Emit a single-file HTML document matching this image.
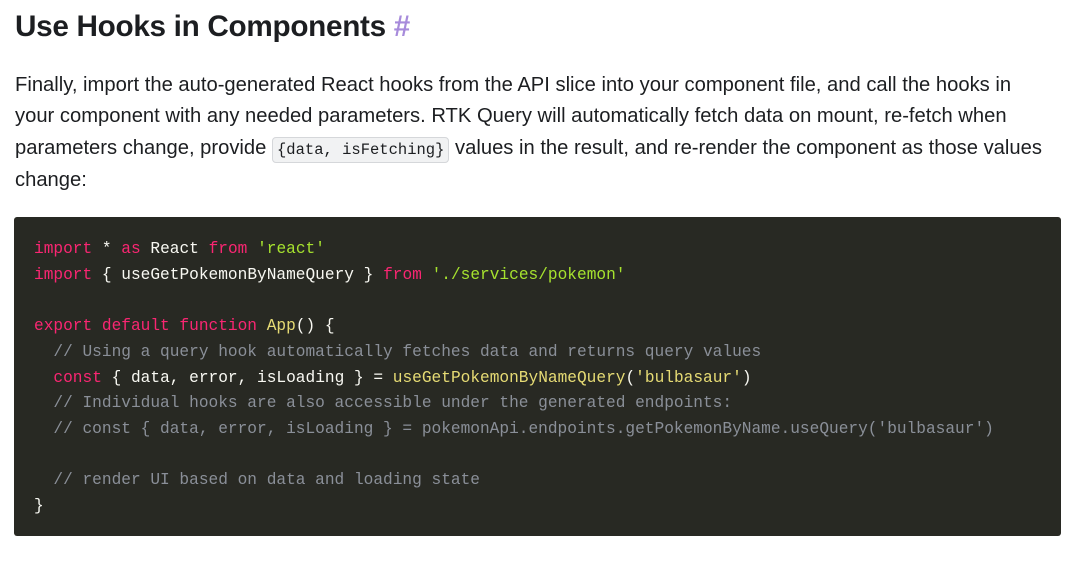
<!DOCTYPE html>
<html><head><meta charset="utf-8"><style>
body{margin:0;width:1080px;height:562px;background:#fff;position:relative;overflow:hidden;font-family:"Liberation Sans",sans-serif;color:#1c1e21}
h1{position:absolute;left:15px;top:10px;margin:0;font-size:29.7px;font-weight:bold;letter-spacing:-0.3px}
h1 span{color:#a78bdb;font-weight:bold}
.p{position:absolute;left:15px;font-size:20.2px;white-space:nowrap;line-height:32px}
.ic{font-family:"Liberation Mono",monospace;font-size:15.5px;background:#f1f2f3;border:1px solid #d5d7da;border-radius:4px;padding:3px 4px}
.code{position:absolute;left:14px;top:217px;width:1047px;height:319px;background:#282923;border-radius:3px}
.l{position:absolute;left:34px;font-family:"Liberation Mono",monospace;font-size:16.17px;color:#f8f8f2;white-space:pre;line-height:20px}
.k{color:#f92672}.s{color:#a6e22e}.f{color:#e6db74}.c{color:#8a8f98}
</style></head><body>
<h1>Use Hooks in Components <span>#</span></h1>
<div class="p" style="top:69px">Finally, import the auto-generated React hooks from the API slice into your component file, and call the hooks in</div>
<div class="p" style="top:100px">your component with any needed parameters. RTK Query will automatically fetch data on mount, re-fetch when</div>
<div class="p" style="top:132px">parameters change, provide <span class="ic">{data, isFetching}</span> values in the result, and re-render the component as those values</div>
<div class="p" style="top:164px">change:</div>
<div class="code"></div>
<div class="l" style="top:239px"><span class="k">import</span> * <span class="k">as</span> React <span class="k">from</span> <span class="s">'react'</span></div>
<div class="l" style="top:265px"><span class="k">import</span> { useGetPokemonByNameQuery } <span class="k">from</span> <span class="s">'./services/pokemon'</span></div>
<div class="l" style="top:316px"><span class="k">export default function</span> <span class="f">App</span>() {</div>
<div class="l c" style="top:342px">  // Using a query hook automatically fetches data and returns query values</div>
<div class="l" style="top:368px">  <span class="k">const</span> { data, error, isLoading } = <span class="f">useGetPokemonByNameQuery</span>(<span class="f">'bulbasaur'</span>)</div>
<div class="l c" style="top:393px">  // Individual hooks are also accessible under the generated endpoints:</div>
<div class="l c" style="top:419px">  // const { data, error, isLoading } = pokemonApi.endpoints.getPokemonByName.useQuery('bulbasaur')</div>
<div class="l c" style="top:470px">  // render UI based on data and loading state</div>
<div class="l" style="top:496px">}</div>
</body></html>
